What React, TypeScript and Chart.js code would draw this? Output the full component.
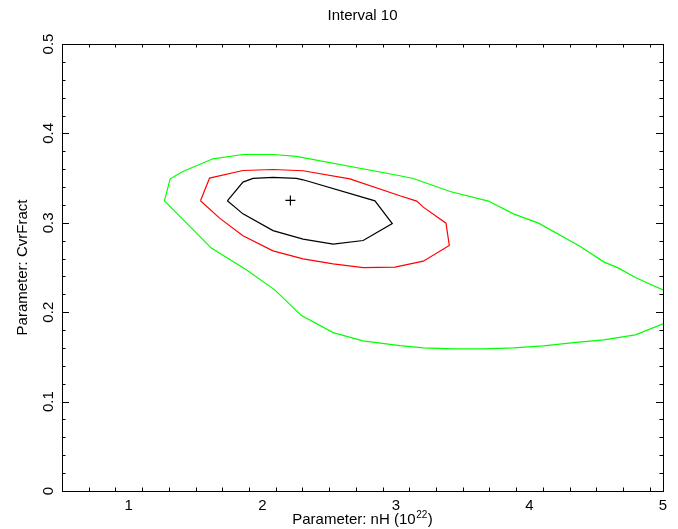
import React, { useEffect, useRef } from "react";
import { Chart, registerables } from "chart.js";

Chart.register(...registerables);

// ---- text ----
const TITLE = "Interval 10";
const X_LABEL_MAIN = "Parameter: nH (10";
const X_LABEL_SUP = "22";
const X_LABEL_END = ")";
const Y_LABEL = "Parameter: CvrFract";

// ---- axes ----
const X_MIN = 0.5;
const X_MAX = 5;
const Y_MIN = 0;
const Y_MAX = 0.5;
const xMajorTicks = [1, 2, 3, 4, 5];
const xTickLabels = ["1", "2", "3", "4", "5"];
const yMajorTicks = [0, 0.1, 0.2, 0.3, 0.4, 0.5];
const yTickLabels = ["0", "0.1", "0.2", "0.3", "0.4", "0.5"];
const X_MINOR_STEP = 0.2;
const Y_MINOR_STEP = 0.02;

// ---- best fit ----
const bestFitX = [2.21];
const bestFitY = [0.325];

// ---- 68% contour (black) ----
const blackX = [1.738, 1.855, 1.93, 2.08, 2.255, 2.305, 2.843, 2.973, 2.755, 2.53, 2.305, 2.08, 1.855, 1.738];
const blackY = [0.3246, 0.3455, 0.3496, 0.3507, 0.3496, 0.3481, 0.3246, 0.2992, 0.2802, 0.2761, 0.2817, 0.2913, 0.31, 0.3246];

// ---- 90% contour (red) ----
const redX = [1.537, 1.605, 1.855, 2.08, 2.305, 2.655, 3.03, 3.156, 3.205, 3.375, 3.4, 3.205, 2.993, 2.755, 2.53, 2.305, 2.08, 1.855, 1.68, 1.537];
const redY = [0.3246, 0.35, 0.3585, 0.3596, 0.3582, 0.3492, 0.3302, 0.3243, 0.3175, 0.2996, 0.2746, 0.2571, 0.2504, 0.2499, 0.254, 0.2597, 0.2686, 0.2854, 0.3052, 0.3246];

// ---- 99% contour (green) ----
const greenX = [5.0, 4.793, 4.668, 4.556, 4.381, 4.068, 3.88, 3.693, 3.406, 3.13, 3.03, 2.255, 2.08, 1.855, 1.63, 1.405, 1.31, 1.267, 1.618, 1.88, 2.093, 2.293, 2.53, 2.753, 3.03, 3.205, 3.43, 3.655, 3.88, 4.105, 4.33, 4.556, 4.793, 5.0];
const greenY = [0.225, 0.2388, 0.2493, 0.2563, 0.2734, 0.2996, 0.31, 0.3243, 0.335, 0.3496, 0.3526, 0.3742, 0.3764, 0.3764, 0.3716, 0.3574, 0.3492, 0.3246, 0.2717, 0.2474, 0.225, 0.1962, 0.1772, 0.1679, 0.1626, 0.1601, 0.1589, 0.1589, 0.1601, 0.1623, 0.166, 0.169, 0.1746, 0.1869];

const FONT = '"Liberation Sans", Arial, Helvetica, sans-serif';

const toPoints = (xs: number[], ys: number[]) => xs.map((x, i) => ({ x, y: ys[i] }));

const framePlugin = {
  id: "xspecFrame",
  afterDraw(chart: any) {
    const ctx = chart.ctx as CanvasRenderingContext2D;
    const xs = chart.scales.x;
    const ys = chart.scales.y;
    const { left, right, top, bottom } = chart.chartArea;
    ctx.save();
    ctx.strokeStyle = "#000";
    ctx.lineWidth = 1;
    ctx.strokeRect(Math.round(left) + 0.5, Math.round(top) + 0.5, Math.round(right) - Math.round(left), Math.round(bottom) - Math.round(top));

    const MAJ = 7;
    const MIN = 3.5;
    ctx.beginPath();
    // x ticks
    const nX = Math.round((X_MAX - X_MIN) / X_MINOR_STEP);
    for (let i = 0; i <= nX; i++) {
      const v = +(X_MIN + i * X_MINOR_STEP).toFixed(4);
      if (v <= X_MIN || v >= X_MAX) continue;
      const isMajor = xMajorTicks.some((t) => Math.abs(t - v) < 1e-6);
      const len = isMajor ? MAJ : MIN;
      const px = Math.round(xs.getPixelForValue(v)) + 0.5;
      ctx.moveTo(px, bottom);
      ctx.lineTo(px, bottom - len);
      ctx.moveTo(px, top);
      ctx.lineTo(px, top + len);
    }
    // y ticks
    const nY = Math.round((Y_MAX - Y_MIN) / Y_MINOR_STEP);
    for (let i = 0; i <= nY; i++) {
      const v = +(Y_MIN + i * Y_MINOR_STEP).toFixed(4);
      if (v <= Y_MIN || v >= Y_MAX) continue;
      const isMajor = yMajorTicks.some((t) => Math.abs(t - v) < 1e-6);
      const len = isMajor ? MAJ : MIN;
      const py = Math.round(ys.getPixelForValue(v)) + 0.5;
      ctx.moveTo(left, py);
      ctx.lineTo(left + len, py);
      ctx.moveTo(right, py);
      ctx.lineTo(right - len, py);
    }
    ctx.stroke();

    ctx.fillStyle = "#000";
    ctx.font = `15px ${FONT}`;
    // x tick labels
    ctx.textAlign = "center";
    ctx.textBaseline = "alphabetic";
    xMajorTicks.forEach((v, i) => {
      ctx.fillText(xTickLabels[i], xs.getPixelForValue(v), bottom + 19);
    });
    // y tick labels (rotated)
    yMajorTicks.forEach((v, i) => {
      ctx.save();
      ctx.translate(left - 9, ys.getPixelForValue(v));
      ctx.rotate(-Math.PI / 2);
      ctx.fillText(yTickLabels[i], 0, 0);
      ctx.restore();
    });
    // title
    const cx = (left + right) / 2;
    ctx.fillText(TITLE, cx, 20);
    // x axis title with superscript
    const wMain = ctx.measureText(X_LABEL_MAIN).width;
    const wEnd = ctx.measureText(X_LABEL_END).width;
    ctx.font = `10px ${FONT}`;
    const wSup = ctx.measureText(X_LABEL_SUP).width;
    const total = wMain + wSup + wEnd + 1;
    let x0 = cx - total / 2;
    ctx.textAlign = "left";
    ctx.font = `15px ${FONT}`;
    ctx.fillText(X_LABEL_MAIN, x0, bottom + 33);
    x0 += wMain;
    ctx.font = `10px ${FONT}`;
    ctx.fillText(X_LABEL_SUP, x0 + 0.5, bottom + 27);
    x0 += wSup + 1;
    ctx.font = `15px ${FONT}`;
    ctx.fillText(X_LABEL_END, x0, bottom + 33);
    // y axis title
    ctx.save();
    ctx.textAlign = "center";
    ctx.translate(27, (top + bottom) / 2);
    ctx.rotate(-Math.PI / 2);
    ctx.fillText(Y_LABEL, 0, 0);
    ctx.restore();
    ctx.restore();
  },
};

export default function App() {
  const ref = useRef<HTMLCanvasElement | null>(null);
  useEffect(() => {
    if (!ref.current) return;
    const line = (xs: number[], ys: number[], color: string, label: string) => ({
      label,
      data: toPoints(xs, ys),
      showLine: true,
      borderColor: color,
      backgroundColor: color,
      borderWidth: 1.2,
      pointRadius: 0,
      tension: 0,
      fill: false,
    });
    const chart = new Chart(ref.current, {
      type: "scatter",
      data: {
        datasets: [
          line(greenX, greenY, "#00ff00", "99%"),
          line(redX, redY, "#ff0000", "90%"),
          line(blackX, blackY, "#000000", "68%"),
          {
            label: "best fit",
            data: toPoints(bestFitX, bestFitY),
            showLine: false,
            pointStyle: "cross",
            pointRadius: 5,
            borderColor: "#000",
            borderWidth: 1.2,
          } as any,
        ],
      },
      options: {
        animation: false,
        responsive: false,
        devicePixelRatio: 1,
        layout: { padding: { left: 62, right: 15, top: 44, bottom: 38 } },
        scales: {
          x: { type: "linear", min: X_MIN, max: X_MAX, display: false },
          y: { type: "linear", min: Y_MIN, max: Y_MAX, display: false },
        },
        plugins: {
          legend: { display: false },
          tooltip: { enabled: false },
          title: { display: false },
        },
      },
      plugins: [framePlugin],
    });
    return () => chart.destroy();
  }, []);
  return (
    <canvas
      ref={ref}
      width={678}
      height={529}
      style={{ position: "fixed", left: 0, top: 0, width: 678, height: 529, display: "block", background: "#fff" }}
    />
  );
}
